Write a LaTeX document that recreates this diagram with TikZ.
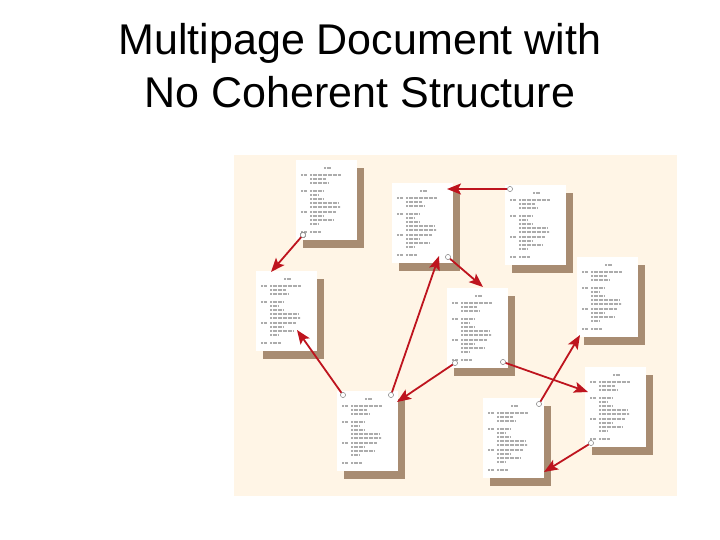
\documentclass[tikz,border=0pt]{standalone}
\usepackage{fontspec}
\setmainfont{Liberation Sans}
\usetikzlibrary{arrows.meta,shadows}
\definecolor{cream}{RGB}{255,245,230}
\definecolor{tan}{RGB}{168,140,114}
\definecolor{linkred}{RGB}{190,20,30}
\tikzset{
  page/.style={draw=none, fill=white, minimum width=61pt, minimum height=80pt,
    inner sep=0pt, anchor=north west,
    general shadow={fill=tan, shadow xshift=7pt, shadow yshift=-8pt}},
  txt/.style={gray!65, line width=1.4pt, dash pattern=on 2pt off 0.5pt},
  hole/.style={circle, draw=gray, fill=white, thin, inner sep=0pt, minimum size=5pt},
  link/.style={linkred, line width=1.8pt, -{Stealth[length=14pt,width=11pt,inset=3pt]}}
}
\newcommand{\pagelines}[1]{%
\begin{scope}[shift={(#1.north west)}]
\draw [txt] (28,8)--(35,8);
\foreach \y in {15,31,52,72} \draw [txt] (5,\y)--(11,\y);
\foreach \y/\e in {15/45,19/30,23/33,31/27,35/22,39/28,43/42,47/44,52/40,56/28,60/38,64/23,72/25}
  \draw [txt] (14,\y)--(\e,\y);
\end{scope}}
\begin{document}
\begin{tikzpicture}[x=1pt,y=-1pt]
\useasboundingbox (0,0) rectangle (720,540);
% title
\node (title1) [anchor=base, font=\fontsize{43}{53}\selectfont] at (360,55) {Multipage Document with};
\node (title2) [anchor=base, font=\fontsize{43}{53}\selectfont] at (360,108) {No Coherent Structure};
\fill [cream] (234,155) rectangle (677,496);
% pages
\node (p1) [page] at (296,160) {};
\node (p2) [page] at (392,183) {};
\node (p3) [page] at (505,185) {};
\node (p4) [page] at (577,257) {};
\node (p5) [page] at (256,271) {};
\node (p6) [page] at (447,288) {};
\node (p7) [page] at (337,391) {};
\node (p8) [page] at (483,398) {};
\node (p9) [page] at (585,367) {};
\foreach \p in {p1,p2,p3,p4,p5,p6,p7,p8,p9} \pagelines{\p}
% link starts and ends
\node (c1) [hole] at (303,235) {};
\node (c2) [hole] at (510,189) {};
\node (c3) [hole] at (448,257) {};
\node (c4) [hole] at (391,395) {};
\node (c5) [hole] at (343,395) {};
\node (c6) [hole] at (455,363) {};
\node (c7) [hole] at (503,362) {};
\node (c8) [hole] at (539,404) {};
\node (c9) [hole] at (591,443) {};
\coordinate (t1) at (271,272);
\coordinate (t2) at (447,189);
\coordinate (t3) at (483,287);
\coordinate (t4) at (439,256);
\coordinate (t5) at (297,330);
\coordinate (t6) at (397,402);
\coordinate (t7) at (588,392);
\coordinate (t8) at (580,335);
\coordinate (t9) at (544,472);
\foreach \i in {1,...,9} \draw [link] (c\i) -- (t\i);
\foreach \i in {1,...,9} \node [hole] at (c\i) {};
\end{tikzpicture}
\end{document}
